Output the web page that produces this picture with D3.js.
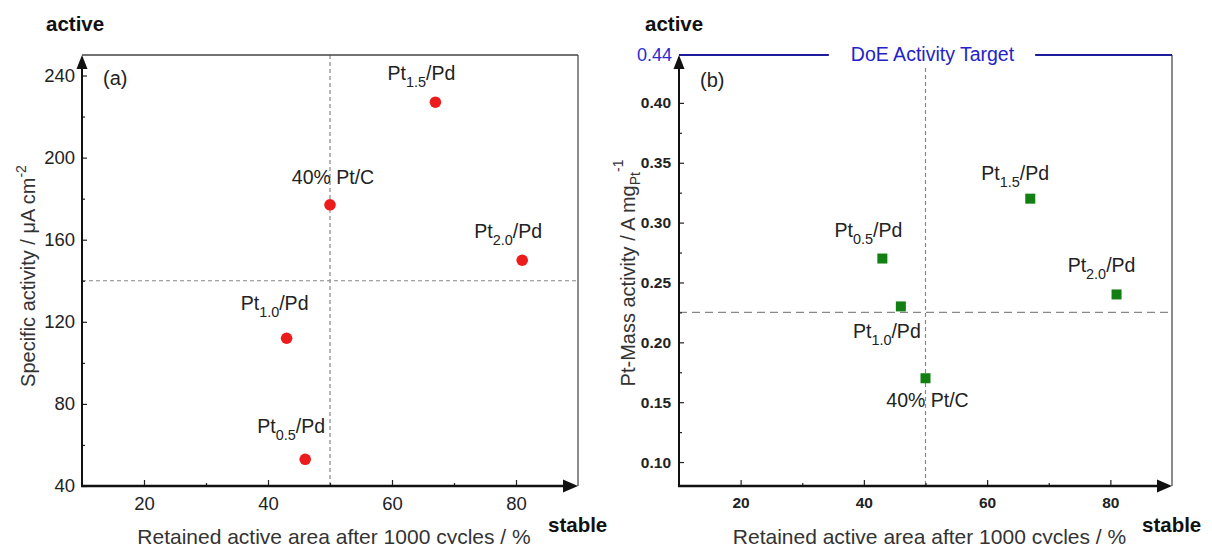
<!DOCTYPE html>
<html>
<head>
<meta charset="utf-8">
<script src="https://cdn.jsdelivr.net/npm/d3@7"></script>
<style>
  body { margin: 0; background: #fff; }
  svg { display: block; font-family: "Liberation Sans", Arial, sans-serif; }
</style>
</head>
<body>
<svg id="chart" width="1212" height="544"></svg>
<script>
// sample names, "base_sub/rest" so the subscript can be split out
var samples = ["Pt_0.5/Pd", "Pt_1.0/Pd", "Pt_1.5/Pd", "Pt_2.0/Pd", "40% Pt/C"];

// panel (a): specific activity vs retained area
var retainedA = [46, 43, 67, 81, 50];
var specificActivity = [53, 112, 227, 150, 177];

// panel (b): Pt mass activity vs retained area
var retainedB = [43, 46, 67, 81, 50];
var massActivity = [0.27, 0.23, 0.32, 0.24, 0.17];

var xTicks = [20, 40, 60, 80];
var xMinorTicks = [30, 50, 70];
var yTicksA = [40, 80, 120, 160, 200, 240];
var yMinorA = [60, 100, 140, 180, 220];
var yTicksB = [0.10, 0.15, 0.20, 0.25, 0.30, 0.35, 0.40];
var yMinorB = [0.125, 0.175, 0.225, 0.275, 0.325, 0.375];

// dashed guide lines [x, y]
var guideA = [50, 140];
var guideB = [50, 0.225];
var doeTarget = 0.44;

// label nudges (px from marker), same order as samples
var nudgeA = [[-14, -26], [-12, -28], [-14, -22], [-14, -22], [3, -21]];
var nudgeB = [[-14, -22], [-14, 32], [-15, -19], [-15, -22], [2, 29]];

var svg = d3.select("#chart");
var plotTop = 55, plotBottom = 486;

function sampleText(sel, name, size) {
    var m = name.match(/^([^_]*)_([^/]*)(.*)$/);
    if (!m) { sel.text(name); return; }
    sel.append("tspan").text(m[1]);
    sel.append("tspan").attr("dy", 7).attr("font-size", size * 0.74).text(m[2]);
    sel.append("tspan").attr("dy", -7).text(m[3]);
}

function drawPanel(opt) {
    var g = svg.append("g");
    var x = d3.scaleLinear().domain([10, 90]).range([opt.left, opt.right]);
    var y = d3.scaleLinear().domain(opt.yDomain).range([plotBottom, plotTop]);

    // guides
    g.append("line")
        .attr("x1", x(opt.guide[0])).attr("x2", x(opt.guide[0]))
        .attr("y1", opt.vguideTop).attr("y2", plotBottom)
        .attr("stroke", "#888").attr("stroke-width", 1.2)
        .attr("stroke-dasharray", "4,3");
    g.append("line")
        .attr("x1", opt.left).attr("x2", opt.right)
        .attr("y1", y(opt.guide[1])).attr("y2", y(opt.guide[1]))
        .attr("stroke", "#888").attr("stroke-width", 1.2)
        .attr("stroke-dasharray", opt.hdash);

    // frame (right, top)
    g.append("line")
        .attr("x1", opt.right).attr("x2", opt.right)
        .attr("y1", plotTop).attr("y2", plotBottom)
        .attr("stroke", "#666").attr("stroke-width", 1.5);
    if (opt.topFrame) {
        g.append("line")
            .attr("x1", opt.left).attr("x2", opt.right)
            .attr("y1", plotTop).attr("y2", plotTop)
            .attr("stroke", "#444").attr("stroke-width", 1.5);
    }

    // axes
    var tickFont = opt.tickBold ? "bold" : "normal";
    var xAxis = g.append("g")
        .attr("transform", "translate(0," + plotBottom + ")")
        .call(d3.axisBottom(x).tickValues(xTicks).tickSize(-6).tickPadding(11).tickFormat(d3.format("d")));
    g.append("g")
        .attr("transform", "translate(0," + plotBottom + ")")
        .call(d3.axisBottom(x).tickValues(xMinorTicks).tickSize(-3).tickFormat(""));
    var yAxis = g.append("g")
        .attr("transform", "translate(" + opt.left + ",0)")
        .call(d3.axisLeft(y).tickValues(opt.yTicks).tickSize(-5).tickPadding(opt.yPad).tickFormat(opt.yFormat));
    g.append("g")
        .attr("transform", "translate(" + opt.left + ",0)")
        .call(d3.axisLeft(y).tickValues(opt.yMinor).tickSize(-3).tickFormat(""));
    g.selectAll(".domain").remove();
    g.selectAll(".tick line").attr("stroke", "#222").attr("stroke-width", 1.2);
    xAxis.selectAll("text").attr("font-size", opt.xTickSize).attr("font-weight", tickFont)
        .attr("fill", "#222").attr("font-family", null);
    yAxis.selectAll("text").attr("font-size", opt.yTickSize).attr("font-weight", tickFont)
        .attr("fill", "#222").attr("font-family", null);

    // axis lines with arrows
    g.append("line")
        .attr("x1", opt.left).attr("x2", opt.left)
        .attr("y1", plotBottom + 1).attr("y2", plotTop + 10)
        .attr("stroke", "#111").attr("stroke-width", 2);
    g.append("path")
        .attr("d", "M" + opt.left + "," + plotTop + "l-5.5,14h11z")
        .attr("fill", "#111");
    g.append("line")
        .attr("x1", opt.left - 1).attr("x2", opt.right - 10)
        .attr("y1", plotBottom).attr("y2", plotBottom)
        .attr("stroke", "#111").attr("stroke-width", 2.4);
    g.append("path")
        .attr("d", "M" + opt.right + "," + plotBottom + "l-15,-6.5v13z")
        .attr("fill", "#111");

    // markers
    var pts = samples.map(function(s, i) {
        return { name: s, x: opt.xs[i], y: opt.ys[i], nudge: opt.nudge[i] };
    });
    if (opt.shape == "circle") {
        g.selectAll("circle.pt").data(pts).enter().append("circle")
            .attr("class", "pt")
            .attr("cx", function(d) { return x(d.x); })
            .attr("cy", function(d) { return y(d.y); })
            .attr("r", 5.8)
            .attr("fill", "#ec1c1c");
    } else {
        g.selectAll("rect.pt").data(pts).enter().append("rect")
            .attr("class", "pt")
            .attr("x", function(d) { return x(d.x) - 5; })
            .attr("y", function(d) { return y(d.y) - 5; })
            .attr("width", 10).attr("height", 10)
            .attr("fill", "#127f12");
    }
    g.selectAll("text.lbl").data(pts).enter().append("text")
        .attr("class", "lbl")
        .attr("x", function(d) { return x(d.x) + d.nudge[0]; })
        .attr("y", function(d) { return y(d.y) + d.nudge[1]; })
        .attr("text-anchor", "middle")
        .attr("font-size", 19.5)
        .attr("fill", "#222")
        .each(function(d) { sampleText(d3.select(this), d.name, 19.5); });

    // panel letter
    g.append("text")
        .attr("x", opt.left + opt.letterDx).attr("y", opt.letterY)
        .attr("font-size", 20).attr("fill", "#222")
        .text(opt.letter);

    // corner words
    g.append("text")
        .attr("x", opt.activeX).attr("y", 31)
        .attr("font-size", 20.5).attr("font-weight", "bold").attr("fill", "#111")
        .text("active");
    g.append("text")
        .attr("x", opt.right - 30).attr("y", 532)
        .attr("font-size", 20.5).attr("font-weight", "bold").attr("fill", "#111")
        .text("stable");

    // axis titles
    g.append("text")
        .attr("x", (opt.left + opt.right) / 2 + 4).attr("y", 544)
        .attr("text-anchor", "middle")
        .attr("font-size", 21).attr("fill", "#333")
        .text("Retained active area after 1000 cycles / %");
    var yl = g.append("text")
        .attr("transform", "translate(" + opt.ylabX + "," + opt.ylabY + ") rotate(-90)")
        .attr("text-anchor", "middle")
        .attr("dy", "0.35em")
        .attr("font-size", 20).attr("fill", "#333");
    opt.ylabel(yl);

    return { g: g, x: x, y: y };
}

var pa = drawPanel({
    left: 82, right: 578, yDomain: [40, 250],
    xs: retainedA, ys: specificActivity, nudge: nudgeA,
    yTicks: yTicksA, yMinor: yMinorA, yFormat: d3.format("d"),
    guide: guideA, vguideTop: plotTop, hdash: "4,3",
    topFrame: true, tickBold: false, xTickSize: 18.5, yTickSize: 18.5, yPad: 7,
    shape: "circle", letter: "(a)", letterDx: 21, letterY: 85,
    activeX: 46, ylabX: 28, ylabY: 276,
    ylabel: function(t) {
        t.append("tspan").text("Specific activity / \u03bcA cm");
        t.append("tspan").attr("dy", -9).attr("font-size", 14).text("-2");
    }
});

var pb = drawPanel({
    left: 679, right: 1172, yDomain: [0.08, 0.44],
    xs: retainedB, ys: massActivity, nudge: nudgeB,
    yTicks: yTicksB, yMinor: yMinorB, yFormat: d3.format(".2f"),
    guide: guideB, vguideTop: plotTop + 13, hdash: "8,5",
    topFrame: false, tickBold: true, xTickSize: 15.5, yTickSize: 15.5, yPad: 8,
    shape: "square", letter: "(b)", letterDx: 21, letterY: 87,
    activeX: 645, ylabX: 628, ylabY: 273,
    ylabel: function(t) {
        t.append("tspan").text("Pt-Mass activity / A mg");
        t.append("tspan").attr("dy", 5).attr("font-size", 14).text("Pt");
        t.append("tspan").attr("dy", -17).attr("font-size", 14).text("-1");
    }
});

// DoE target line on panel (b), with a gap for its caption
var doeY = pb.y(doeTarget);
var capX = (679 + 1172) / 2 + 7;
var cap = pb.g.append("text")
    .attr("x", capX).attr("y", doeY + 6)
    .attr("text-anchor", "middle")
    .attr("font-size", 19.5).attr("fill", "#2323c8")
    .text("DoE Activity Target");
var cw = cap.node().getComputedTextLength();
pb.g.append("line")
    .attr("x1", 679).attr("x2", capX - cw / 2 - 22)
    .attr("y1", doeY).attr("y2", doeY)
    .attr("stroke", "#1c1c9c").attr("stroke-width", 2);
pb.g.append("line")
    .attr("x1", capX + cw / 2 + 21).attr("x2", 1172)
    .attr("y1", doeY).attr("y2", doeY)
    .attr("stroke", "#1c1c9c").attr("stroke-width", 2);
pb.g.append("text")
    .attr("x", 679 - 7).attr("y", doeY)
    .attr("dy", "0.32em")
    .attr("text-anchor", "end")
    .attr("font-size", 18).attr("fill", "#2a2ad0")
    .text(d3.format(".2f")(doeTarget));
</script>
</body>
</html>
